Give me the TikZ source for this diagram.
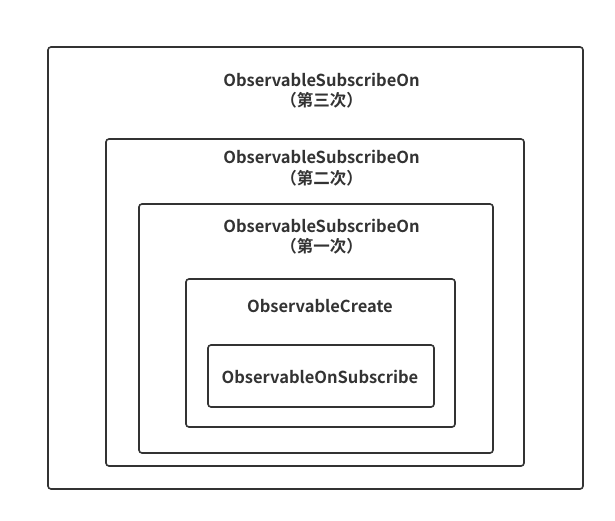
\documentclass[tikz,border=0pt]{standalone}
\usepackage{fontspec}
\setmainfont{Noto Sans CJK SC}[BoldFont={* Bold}]
\definecolor{ink}{HTML}{333333}
\tikzset{
  frame/.style={draw=ink, line width=1.6pt, rounded corners=3pt, inner sep=0pt},
  lbl/.style={text=ink, font=\fontsize{16.5}{20.5}\selectfont\bfseries, align=center, inner sep=0pt}
}
\begin{document}
\begin{tikzpicture}[x=1pt,y=-1pt]
\useasboundingbox[fill=white] (0,0) rectangle (615,521);
\node[frame, minimum width=535pt, minimum height=442pt] (b3) at (315.5,268) {};
\node[frame, minimum width=418pt, minimum height=327pt] (b2) at (315,302.5) {};
\node[frame, minimum width=354pt, minimum height=249pt] (b1) at (316,328.5) {};
\node[frame, minimum width=269pt, minimum height=148pt] (bc) at (320.5,353) {};
\node[frame, minimum width=226pt, minimum height=62pt] (bo) at (321,376) {};
\node[lbl] (t3) at (321.5,90.5) {ObservableSubscribeOn\\（第三次）};
\node[lbl] (t2) at (321.5,168) {ObservableSubscribeOn\\（第二次）};
\node[lbl] (t1) at (321.5,236.5) {ObservableSubscribeOn\\（第一次）};
\node[lbl] (tc) at (320,306.5) {ObservableCreate};
\node[lbl] (to) at (320,376.5) {ObservableOnSubscribe};
\end{tikzpicture}
\end{document}
